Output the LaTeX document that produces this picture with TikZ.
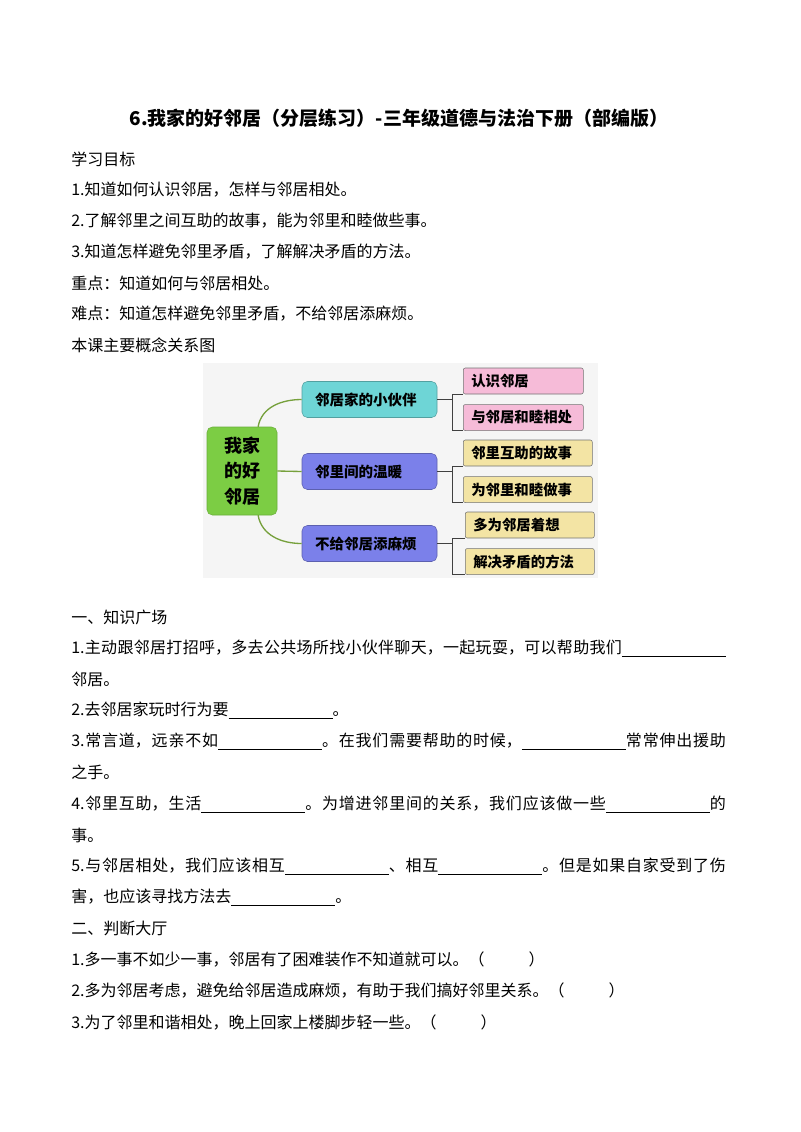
\documentclass[tikz,border=0pt]{standalone}
\usepackage{fontspec}
\setmainfont{Noto Sans CJK SC}
\usetikzlibrary{positioning}
\definecolor{rootgreen}{HTML}{7CCD44}
\definecolor{topiccyan}{HTML}{6ED5D6}
\definecolor{topicblue}{HTML}{7B80EA}
\definecolor{leafpink}{HTML}{F6BBD8}
\definecolor{leafyellow}{HTML}{F3E4A4}
\definecolor{branchgreen}{HTML}{76A03C}
\definecolor{mapbg}{HTML}{F5F5F5}
\newcommand{\blank}{\rule[-2pt]{78pt}{0.4pt}}
\newcommand{\jline}[1]{\parbox{491pt}{\XeTeXlinebreaklocale "zh"\XeTeXlinebreakskip=0pt plus 4pt\parfillskip=0pt\relax #1}}
\tikzset{
    txt/.style = {anchor=west, inner sep=0pt, font=\fontsize{12}{15}\selectfont},
    heading/.style = {inner sep=0pt, font=\bfseries\fontsize{14.25}{17}\selectfont},
    root/.style = {rectangle, rounded corners=4pt, draw=rootgreen!85!black, fill=rootgreen, minimum width=52.5pt, minimum height=66pt, align=center, font=\bfseries\fontsize{13.5}{19}\selectfont},
    topic/.style = {rectangle, rounded corners=4pt, minimum height=27pt, text width=81.75pt, inner xsep=9.75pt, align=left, font=\bfseries\fontsize{10.9}{13}\selectfont},
    topicc/.style = {topic, fill=topiccyan, draw=topiccyan!75!black},
    topicb/.style = {topic, fill=topicblue, draw=topicblue!75!black},
    leaf/.style = {rectangle, rounded corners=1.5pt, draw=black!55, minimum height=19.5pt, inner xsep=6pt, text width=#1, align=left, font=\bfseries\fontsize{10.8}{13}\selectfont},
    leafp/.style = {leaf=78pt, fill=leafpink},
    leafy/.style = {leaf=84.75pt, fill=leafyellow},
    branch/.style = {branchgreen, line width=1pt},
    bracket/.style = {draw=black!75, line width=0.7pt}
}

\begin{document}
\begin{tikzpicture}[x=0.75pt, y=-0.75pt]
\useasboundingbox (0,0) rectangle (800,1132);
\fill[white] (0,0) rectangle (800,1132);

\node[heading] (title) at (399,118) {6.我家的好邻居（分层练习）-三年级道德与法治下册（部编版）};

\node[txt] (goal) at (71,159) {学习目标};
\node[txt] (goal1) at (71,190) {1.知道如何认识邻居，怎样与邻居相处。};
\node[txt] (goal2) at (71,221) {2.了解邻里之间互助的故事，能为邻里和睦做些事。};
\node[txt] (goal3) at (71,252) {3.知道怎样避免邻里矛盾，了解解决矛盾的方法。};
\node[txt] (key) at (71,283) {重点：知道如何与邻居相处。};
\node[txt] (hard) at (71,314) {难点：知道怎样避免邻里矛盾，不给邻居添麻烦。};
\node[txt] (mapcap) at (71,345) {本课主要概念关系图};

% concept map
\fill[mapbg] (203,363) rectangle (598,578);
\node[root] (home) at (242,471) {我家\\的好\\邻居};
\node[topicc] (t1) at (369.5,399.5) {邻居家的小伙伴};
\node[topicb] (t2) at (369.5,471.5) {邻里间的温暖};
\node[topicb] (t3) at (369.5,543.5) {不给邻居添麻烦};

\node[leafp, anchor=west] (a1) at (463,381) {认识邻居};
\node[leafp, below=7.5pt of a1] (a2) {与邻居和睦相处};
\node[leafy, anchor=west] (b1) at (463,453) {邻里互助的故事};
\node[leafy, below=7.5pt of b1] (b2) {为邻里和睦做事};
\node[leafy, anchor=west] (c1) at (465,525) {多为邻居着想};
\node[leafy, below=7.5pt of c1] (c2) {解决矛盾的方法};

\draw[branch] (home.70) to[out=80,in=180] (t1.west);
\draw[branch] (home.east) -- (t2.west);
\draw[branch] (home.-70) to[out=-80,in=180] (t3.west);

\foreach \t/\a/\b in {t1/a1/a2, t2/b1/b2, t3/c1/c2} {
    \draw[bracket] (\t.east) -- ++(15,0) coordinate (j);
    \draw[bracket] (\a.south west) -- (\a.south west -| j) -- (\b.south west -| j) -- (\b.south west);
}

% exercises
\node[txt] (sec1) at (71,617) {一、知识广场};
\node[txt] (q1) at (71,648) {\jline{1.主动跟邻居打招呼，多去公共场所找小伙伴聊天，一起玩耍，可以帮助我们\blank}};
\node[txt] (q1b) at (71,679) {邻居。};
\node[txt] (q2) at (71,710) {2.去邻居家玩时行为要\blank。};
\node[txt] (q3) at (71,741) {\jline{3.常言道，远亲不如\blank。在我们需要帮助的时候，\blank 常常伸出援助}};
\node[txt] (q3b) at (71,772) {之手。};
\node[txt] (q4) at (71,804) {\jline{4.邻里互助，生活\blank。为增进邻里间的关系，我们应该做一些\blank 的}};
\node[txt] (q4b) at (71,835) {事。};
\node[txt] (q5) at (71,866) {\jline{5.与邻居相处，我们应该相互\blank、相互\blank。但是如果自家受到了伤}};
\node[txt] (q5b) at (71,897) {害，也应该寻找方法去\blank。};

\node[txt] (sec2) at (71,928) {二、判断大厅};
\node[txt] (p1) at (71,959) {1.多一事不如少一事，邻居有了困难装作不知道就可以。（\hspace{33pt}）};
\node[txt] (p2) at (71,990) {2.多为邻居考虑，避免给邻居造成麻烦，有助于我们搞好邻里关系。（\hspace{33pt}）};
\node[txt] (p3) at (71,1022) {3.为了邻里和谐相处，晚上回家上楼脚步轻一些。（\hspace{33pt}）};
\end{tikzpicture}
\end{document}
